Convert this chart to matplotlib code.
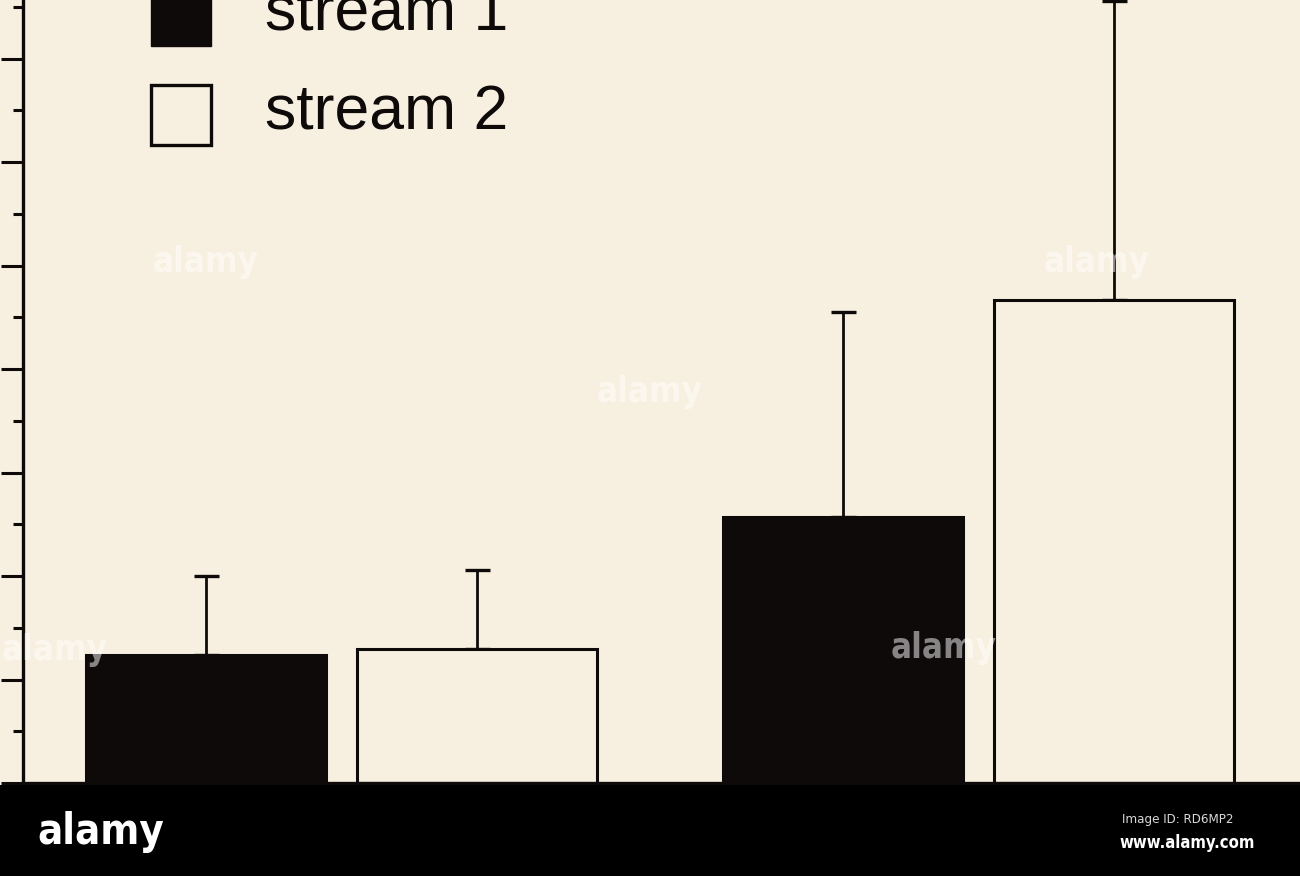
import matplotlib
matplotlib.use('Agg')
import matplotlib.pyplot as plt
from matplotlib.patches import Rectangle
from matplotlib.ticker import MultipleLocator

# values (units of one major tick)
groups = [0, 1]
stream1 = [1.24, 2.57]
stream1_err = [0.76, 1.98]
stream2 = [1.29, 4.67]
stream2_err = [0.77, 2.89]
labels = ['stream 1', 'stream 2']

bg = '#f7f0e0'
ink = '#0d0a09'
W, H = 1300, 876

fig = plt.figure(figsize=(W / 100, H / 100), dpi=100)
fig.patch.set_facecolor(bg)

ax = fig.add_axes([23 / W, 1 - 783 / H, (W - 23) / W, 783 / H])
ax.set_facecolor(bg)

bw = 0.377
off = 0.2127
x1 = [g - off for g in groups]
x2 = [g + off for g in groups]

ax.bar(x1, stream1, width=bw, color=ink, edgecolor=ink, linewidth=2.2, zorder=2)
ax.bar(x2, stream2, width=bw, color=bg, edgecolor=ink, linewidth=2.2, zorder=2)

for xs, ys, es in [(x1, stream1, stream1_err), (x2, stream2, stream2_err)]:
    eb = ax.errorbar(xs, ys, yerr=[[0] * len(es), es], fmt='none', ecolor=ink,
                     elinewidth=2.0, capsize=9, capthick=2.4, zorder=1)
    for art in eb.get_children():
        art.set_clip_on(False)

ax.set_xlim(-0.5, 1.504)
ax.set_ylim(0, 783 / 103.5)

for s in ['top', 'right']:
    ax.spines[s].set_visible(False)
for s in ['left', 'bottom']:
    ax.spines[s].set_linewidth(2.4)
    ax.spines[s].set_color(ink)

ax.yaxis.set_major_locator(MultipleLocator(1))
ax.yaxis.set_minor_locator(MultipleLocator(0.5))
ax.tick_params(axis='y', which='major', length=16, width=2.2, direction='out', labelleft=False, color=ink)
ax.tick_params(axis='y', which='minor', length=7.5, width=2.2, direction='out', color=ink)
ax.set_xticks([])


def fx(px):
    return px / W


def fy(py):
    return 1 - py / H


# legend drawn by hand
fig.add_artist(Rectangle((fx(151), fy(46)), 60 / W, 61 / H, transform=fig.transFigure,
                         facecolor=ink, edgecolor=ink, lw=1))
fig.add_artist(Rectangle((fx(151), fy(145)), 60 / W, 60 / H, transform=fig.transFigure,
                         facecolor=bg, edgecolor=ink, lw=2.4))
fig.text(fx(265), fy(30), labels[0], fontsize=45, family=['Liberation Sans', 'DejaVu Sans'],
         va='baseline', ha='left', color=ink)
fig.text(fx(265), fy(130), labels[1], fontsize=45, family=['Liberation Sans', 'DejaVu Sans'],
         va='baseline', ha='left', color=ink)

# faint watermarks
for (px, py) in [(206, 262), (650, 392), (55, 650), (944, 648), (1097, 262)]:
    fig.text(fx(px), fy(py), 'alamy', fontsize=25, fontweight='bold', fontstretch='condensed',
             family='DejaVu Sans', color='white', alpha=0.5, ha='center', va='center')

# black banner at the bottom
fig.add_artist(Rectangle((0, 0), 1, (H - 785) / H, transform=fig.transFigure,
                         facecolor='black', edgecolor='none'))
fig.text(fx(101), fy(832), 'alamy', fontsize=30, fontweight='bold', fontstretch='condensed',
         family='DejaVu Sans', color='white', ha='center', va='center')
fig.text(fx(1178), fy(819), 'Image ID: RD6MP2', fontsize=9.5, fontstretch='condensed',
         family='DejaVu Sans', color='#d8d8d8', ha='center', va='center')
fig.text(fx(1187), fy(843), 'www.alamy.com', fontsize=12, fontweight='bold', fontstretch='condensed',
         family='DejaVu Sans', color='white', ha='center', va='center')

fig.savefig('out.png', dpi=100, facecolor=bg)
